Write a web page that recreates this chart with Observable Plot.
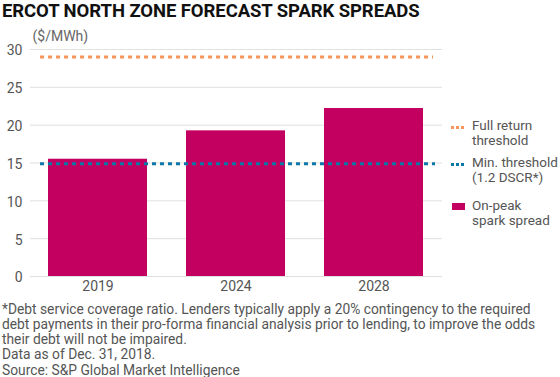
<!DOCTYPE html>
<html>
<head>
<meta charset="utf-8">
<script src="https://cdn.jsdelivr.net/npm/d3@7"></script>
<script src="https://cdn.jsdelivr.net/npm/@observablehq/plot@0.6"></script>
<style>
  html, body { margin: 0; padding: 0; background: #fff; }
  #wrap { position: relative; width: 560px; height: 377px; overflow: hidden; font-family: Roboto, "Noto Sans", sans-serif; }
  #title { position: absolute; left: 2px; top: 0; height: 23px; line-height: 23px; font-size: 18.5px; font-weight: 700; color: #111; white-space: nowrap; letter-spacing: -0.08px; }
  #chart { position: absolute; left: 0; top: 27px; }
  #chart svg { display: block; }
  #legend { position: absolute; left: 449px; top: 0; font-size: 13.5px; color: #555; }
  .item { position: absolute; left: 0; white-space: nowrap; }
  .item .txt { position: absolute; left: 23px; top: 0; line-height: 15.2px; }
  .dots { position: absolute; left: 2px; width: 13px; height: 3px; }
  .sq { position: absolute; left: 3px; width: 13px; height: 7px; }
  #footer { position: absolute; left: 2px; top: 301.5px; font-size: 13.8px; line-height: 15.25px; color: #555; width: 558px; white-space: nowrap; }
</style>
</head>
<body>
<div id="wrap">
  <div id="title"></div>
  <div id="chart"></div>
  <div id="legend"></div>
  <div id="footer"></div>
</div>
<script>
const titleText = "ERCOT NORTH ZONE FORECAST SPARK SPREADS";
const unitLabel = "($/MWh)";
const years = ["2019", "2024", "2028"];
const onPeakSpread = [15.5, 19.25, 22.2];
const fullReturnThreshold = [29];
const minThreshold = [14.9];
const yTicks = [0, 5, 10, 15, 20, 25, 30];
const legendItems = [
  {kind: "dots", color: "#f7955d", lines: ["Full return", "threshold"]},
  {kind: "dots", color: "#0a77a8", lines: ["Min. threshold", "(1.2 DSCR*)"]},
  {kind: "square", color: "#c30060", lines: ["On-peak", "spark spread"]}
];
const footerLines = [
  "*Debt service coverage ratio. Lenders typically apply a 20% contingency to the required",
  "debt payments in their pro-forma financial analysis prior to lending, to improve the odds",
  "their debt will not be impaired.",
  "Data as of Dec. 31, 2018.",
  "Source: S&P Global Market Intelligence"
];

const barColor = "#c30060";
const data = years.map((y, i) => ({year: y, value: onPeakSpread[i]}));

document.getElementById("title").textContent = titleText;

const chart = Plot.plot({
  width: 560,
  height: 270,
  marginLeft: 30,
  marginRight: 118,
  marginTop: 22,
  marginBottom: 21,
  style: {fontFamily: "Roboto, 'Noto Sans', sans-serif", fontSize: "14px", color: "#555", background: "#fff"},
  x: {domain: years, paddingInner: 0.28, paddingOuter: 0.13, label: null, tickSize: 0, tickPadding: 5},
  y: {domain: [0, 30], ticks: yTicks, label: null, tickSize: 0, tickPadding: 8},
  marks: [
    Plot.gridY(yTicks, {stroke: "#e0e0e0", strokeOpacity: 1, strokeWidth: 1}),
    Plot.barY(data, {x: "year", y: "value", fill: barColor}),
    Plot.ruleY(fullReturnThreshold, {stroke: legendItems[0].color, strokeWidth: 3, strokeDasharray: "4,4", insetLeft: 10, insetRight: 9}),
    Plot.ruleY(minThreshold, {stroke: legendItems[1].color, strokeWidth: 3, strokeDasharray: "4,4", insetLeft: 10, insetRight: 7}),
    Plot.axisX({tickSize: 0, tickPadding: 5, fontSize: 14, fill: "#555", label: null}),
    Plot.axisY({ticks: yTicks, tickSize: 0, tickPadding: 8, fontSize: 14, fill: "#555", label: null, dy: 1.5}),
    Plot.text([unitLabel], {frameAnchor: "top-left", dx: 2, dy: -18, fontSize: 14, fill: "#666", textAnchor: "start"})
  ]
});
document.getElementById("chart").appendChild(chart);

// legend
const legend = document.getElementById("legend");
const itemTops = [118, 155, 198];
legendItems.forEach((it, i) => {
  const d = document.createElement("div");
  d.className = "item";
  d.style.top = itemTops[i] + "px";
  const sw = document.createElement("div");
  if (it.kind === "dots") {
    sw.className = "dots";
    sw.style.top = "7.5px";
    sw.style.background = `repeating-linear-gradient(to right, ${it.color} 0 3px, transparent 3px 5px)`;
  } else {
    sw.className = "sq";
    sw.style.top = "4.5px";
    sw.style.background = it.color;
  }
  d.appendChild(sw);
  const t = document.createElement("div");
  t.className = "txt";
  t.innerHTML = it.lines.map(s => s.replace(/&/g, "&amp;")).join("<br>");
  d.appendChild(t);
  legend.appendChild(d);
});

document.getElementById("footer").innerHTML = footerLines.map(s => s.replace(/&/g, "&amp;")).join("<br>");
</script>
</body>
</html>
